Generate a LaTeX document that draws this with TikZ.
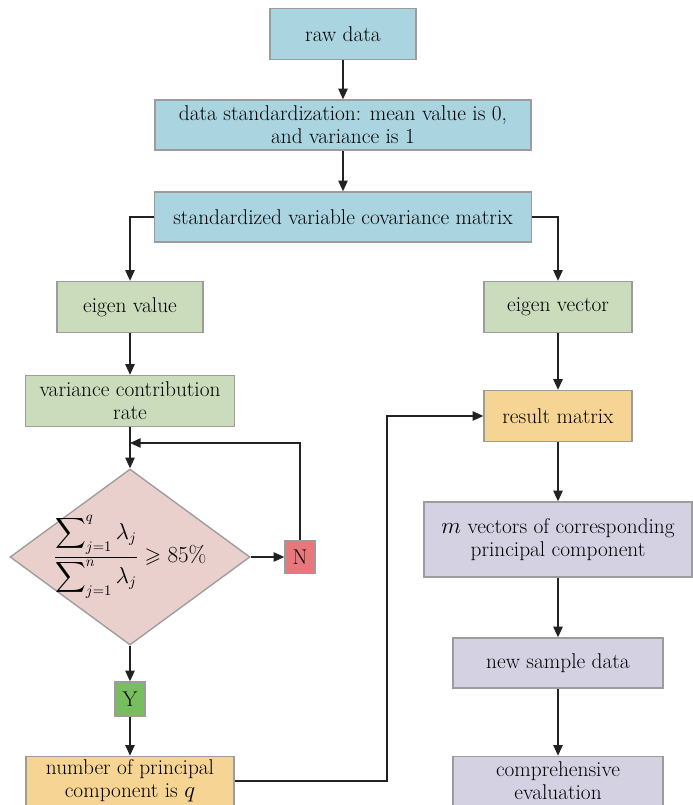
\documentclass[tikz,border=0pt]{standalone}
\usepackage{amsmath,amssymb}
\usetikzlibrary{arrows.meta,shapes.geometric}
\definecolor{cblue}{HTML}{A9D4E0}
\definecolor{cgreen}{HTML}{CADCBC}
\definecolor{corange}{HTML}{F6D594}
\definecolor{cpurple}{HTML}{D4D1E3}
\definecolor{cpink}{HTML}{E9D0CD}
\definecolor{cred}{HTML}{E8777C}
\definecolor{cygreen}{HTML}{78BE5E}
\definecolor{cborder}{HTML}{9C9C9C}
\definecolor{cline}{HTML}{222222}
\tikzset{
  box/.style={draw=cborder, line width=1pt, rectangle, align=center, inner sep=1pt,
    font=\fontsize{16}{17.5}\selectfont},
  bluebox/.style={box, fill=cblue},
  greenbox/.style={box, fill=cgreen},
  orangebox/.style={box, fill=corange},
  purplebox/.style={box, fill=cpurple},
  arr/.style={draw=cline, line width=1.1pt, -{Triangle[length=8pt,width=7pt]}},
  ln/.style={draw=cline, line width=1.1pt}
}
\begin{document}
\begin{tikzpicture}[x=0.75pt,y=-0.75pt]
\useasboundingbox[fill=white] (0,0) rectangle (692,805);
% top column
\node[bluebox, minimum width=109.5pt, minimum height=38.25pt] (raw) at (343,34) {raw data};
\node[bluebox, minimum width=282pt, minimum height=37.5pt] (std) at (343,125)
  {data standardization: mean value is 0,\\ and variance is 1};
\node[bluebox, minimum width=282.75pt, minimum height=37.5pt] (cov) at (343,217)
  {standardized variable covariance matrix};
% left column
\node[greenbox, minimum width=109.5pt, minimum height=38.25pt] (ev) at (130,307) {eigen value};
\node[greenbox, minimum width=156.75pt, minimum height=38.25pt] (vcr) at (130,401)
  {variance contribution\\ rate};
\node[diamond, draw=cborder, line width=1pt, fill=cpink, inner sep=0pt, aspect=1.36,
  minimum width=180pt, minimum height=132pt] (dia) at (130,557) {};
\node[font=\fontsize{16}{17.5}\selectfont, inner sep=0pt] (formula) at (130,557)
  {$\dfrac{\displaystyle\sum\nolimits_{j=1}^{q}\lambda_j}{\displaystyle\sum\nolimits_{j=1}^{n}\lambda_j}\geqslant 85\%$};
\node[box, fill=cred, minimum width=22.5pt, minimum height=24.75pt, inner sep=0pt] (N) at (300,557) {N};
\node[box, fill=cygreen, minimum width=22.5pt, minimum height=25.5pt, inner sep=0pt] (Y) at (130,699) {Y};
\node[orangebox, minimum width=156pt, minimum height=37pt] (npc) at (130,781)
  {number of principal\\ component is $q$};
% right column
\node[greenbox, minimum width=111pt, minimum height=38.25pt] (evec) at (558,307) {eigen vector};
\node[orangebox, minimum width=111pt, minimum height=38.25pt] (res) at (558,416) {result matrix};
\node[purplebox, minimum width=201pt, minimum height=56.25pt] (mvec) at (558,539.5)
  {$m$ vectors of corresponding\\ principal component};
\node[purplebox, minimum width=157.5pt, minimum height=37.5pt] (nsd) at (558,663) {new sample data};
\node[purplebox, minimum width=157.5pt, minimum height=37pt] (comp) at (558,781)
  {comprehensive\\ evaluation};
% helper coordinates
\coordinate (loop) at (130,443);
\coordinate (turn) at (387,600);
% connectors
\draw[arr] (raw.south) -- (std.north);
\draw[arr] (std.south) -- (cov.north);
\draw[arr] (cov.west) -| (ev.north);
\draw[arr] (cov.east) -| (evec.north);
\draw[arr] (ev.south) -- (vcr.north);
\draw[arr] (vcr.south) -- (dia.north);
\draw[arr] (N.north) |- (loop);
\draw[arr] (dia.east) -- (N.west);
\draw[arr] (dia.south) -- (Y.north);
\draw[arr] (Y.south) -- (npc.north);
\draw[arr] (npc.east) -| (turn) |- (res.west);
\draw[arr] (evec.south) -- (res.north);
\draw[arr] (res.south) -- (mvec.north);
\draw[arr] (mvec.south) -- (nsd.north);
\draw[arr] (nsd.south) -- (comp.north);
\end{tikzpicture}
\end{document}
